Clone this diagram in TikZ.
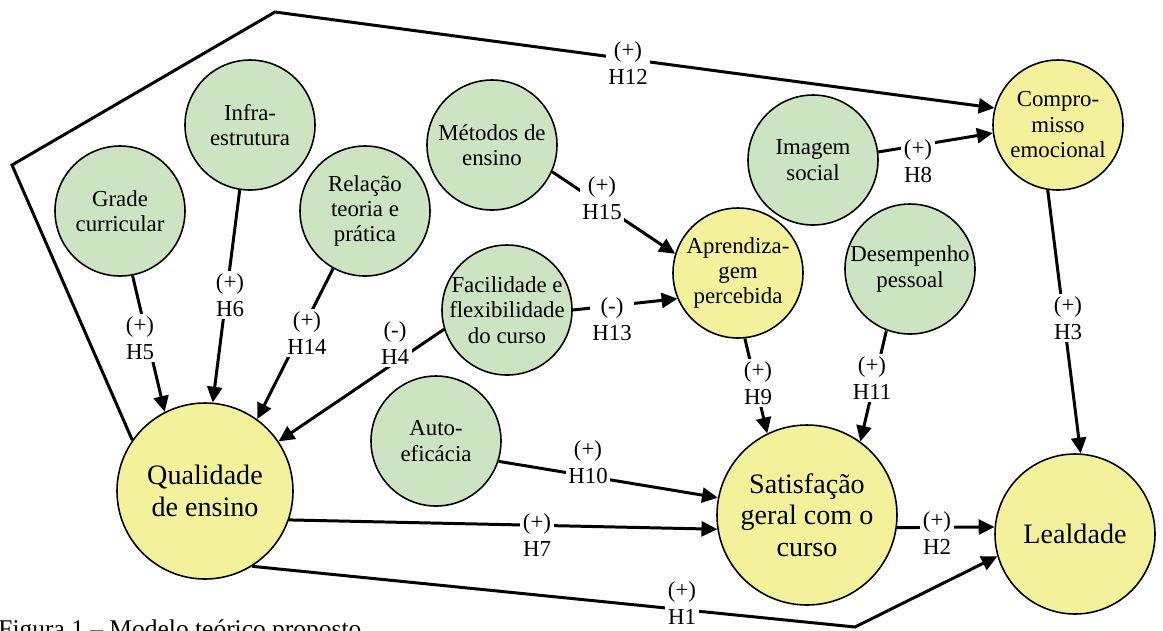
\documentclass[tikz,border=0pt]{standalone}
\usepackage{fontspec}
\setmainfont{Liberation Serif}
\usetikzlibrary{arrows.meta}
\definecolor{verdeclaro}{RGB}{205,228,195}
\definecolor{amareloclaro}{RGB}{244,241,157}

\begin{document}
\begin{tikzpicture}[
        construto/.style={draw, circle, line width=0.9pt, align=center, inner sep=-8pt},
        fator/.style={construto, fill=verdeclaro, minimum size=2.6cm, font=\fontsize{13}{14.5}\selectfont},
        mediador/.style={construto, fill=amareloclaro, minimum size=2.6cm, font=\fontsize{13}{14.5}\selectfont},
        central/.style={construto, fill=amareloclaro, font=\fontsize{16}{18}\selectfont},
        hip/.style={line width=1.7pt, -{Triangle[length=9pt, width=8.5pt]}},
        rot/.style={fill=white, align=center, inner sep=1.5pt, font=\fontsize{13}{15}\selectfont}]
        \useasboundingbox (0,0) rectangle (23.26,-12.6);

        \draw (2.4,-4.22) node[fator] (grade) {Grade\\curricular};
        \draw (5.0,-2.5) node[fator] (infra) {Infra-\\estrutura};
        \draw (7.3,-4.22) node[fator] (relacao) {Relação\\teoria e\\prática};
        \draw (9.84,-2.9) node[fator] (metodos) {Métodos de\\ensino};
        \draw (10.14,-6.2) node[fator] (facil) {Facilidade e\\flexibilidade\\do curso};
        \draw (8.72,-8.82) node[fator] (auto) {Auto-\\eficácia};
        \draw (16.26,-3.2) node[fator] (imagem) {Imagem\\social};
        \draw (18.2,-5.38) node[fator] (desemp) {Desempenho\\pessoal};
        \draw (14.76,-5.46) node[mediador] (aprend) {Aprendiza-\\gem\\percebida};
        \draw (21.16,-2.5) node[mediador] (comp) {Compro-\\misso\\emocional};
        \draw (4.1,-9.82) node[central, minimum size=3.52cm] (qual) {Qualidade\\de ensino};
        \draw (16.14,-10.3) node[central, minimum size=3.6cm] (satisf) {Satisfação\\geral com o\\curso};
        \draw (21.5,-10.68) node[central, minimum size=3.2cm] (leal) {Lealdade};

        \coordinate (c1) at (17.1,-12.54);
        \coordinate (c2) at (0.24,-3.3);
        \coordinate (c3) at (5.5,-0.24);

        \draw[hip] (grade.-79) -- (qual.117);
        \draw[hip] (infra.-99) -- (qual.85);
        \draw[hip] (relacao.-119) -- (qual.54);
        \draw[hip] (facil.-163) -- (qual.34);
        \draw[hip] (metodos.-24) -- (aprend.163);
        \draw[hip] (facil.0) -- (aprend.203);
        \draw[hip] (imagem.7) -- (comp.187);
        \draw[hip] (comp.-99) -- (leal.86);
        \draw[hip] (aprend.-84) -- (satisf.116);
        \draw[hip] (desemp.-111) -- (satisf.54);
        \draw[hip] (auto.-18) -- (satisf.169);
        \draw[hip] (qual.-19) -- (satisf.189);
        \draw[hip] (satisf.-8) -- (leal.175);
        \draw[hip] (qual.-58) -- (c1) -- (leal.196);
        \draw[hip] (qual.145) -- (c2) -- (c3) -- (comp.165);

        \node[rot] (h1) at (13.64,-12.06) {(+)\\H1};
        \node[rot] (h2) at (18.74,-10.66) {(+)\\H2};
        \node[rot] (h3) at (21.36,-6.36) {(+)\\H3};
        \node[rot] (h4) at (7.9,-6.86) {(-)\\H4};
        \node[rot] (h5) at (2.8,-6.76) {(+)\\H5};
        \node[rot] (h6) at (4.6,-5.9) {(+)\\H6};
        \node[rot] (h7) at (10.74,-10.7) {(+)\\H7};
        \node[rot] (h8) at (18.36,-3.22) {(+)\\H8};
        \node[rot] (h9) at (15.16,-7.66) {(+)\\H9};
        \node[rot] (h10) at (11.76,-9.24) {(+)\\H10};
        \node[rot] (h11) at (17.44,-7.56) {(+)\\H11};
        \node[rot] (h12) at (12.56,-1.26) {(+)\\H12};
        \node[rot] (h13) at (12.24,-6.38) {(-)\\H13};
        \node[rot] (h14) at (6.14,-6.66) {(+)\\H14};
        \node[rot] (h15) at (12.04,-3.96) {(+)\\H15};

        \node[anchor=base west, inner sep=0pt, font=\fontsize{14.5}{16}\selectfont] (legenda) at (-0.04,-12.74) {Figura 1 – Modelo teórico proposto};
    \end{tikzpicture}
\end{document}
